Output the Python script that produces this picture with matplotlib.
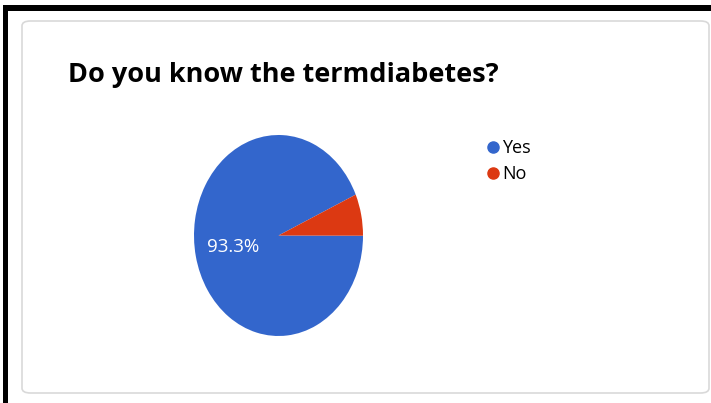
import matplotlib
matplotlib.use('Agg')
import matplotlib.pyplot as plt
from matplotlib.patches import FancyBboxPatch, Rectangle
from matplotlib.lines import Line2D

labels = ['Yes', 'No']
values = [93.3, 6.7]
colors = ['#3366cc', '#dc3912']
title = 'Do you know the termdiabetes?'

plt.rcParams['font.family'] = ['Open Sans', 'DejaVu Sans']

W, H = 711, 403
fig = plt.figure(figsize=(W / 100, H / 100), dpi=100)
fig.patch.set_facecolor('white')

# black frame (top and left) and grey rounded card, kept behind the pie
fig.patches.append(Rectangle((3 / W, 1 - 11 / H), 1, 6 / H, transform=fig.transFigure,
                             facecolor='black', edgecolor='none', zorder=-2))
fig.patches.append(Rectangle((3 / W, 0), 5 / W, 1 - 5 / H, transform=fig.transFigure,
                             facecolor='black', edgecolor='none', zorder=-2))
fig.patches.append(FancyBboxPatch((22 / W, 10 / H), 687 / W, 372 / H,
                                  boxstyle='round,pad=0,rounding_size=0.012',
                                  transform=fig.transFigure, facecolor='white',
                                  edgecolor='#d9d9d9', linewidth=1.2, zorder=-1))

fig.text(68 / W, 1 - 75 / H, title, fontsize=19.5, fontweight='bold',
         color='black', va='center', ha='left')

ax = fig.add_axes([194 / W, 1 - 336 / H, 169 / W, 201 / H])
wedges, texts, autotexts = ax.pie(values, colors=colors, startangle=24,
                                  counterclock=True, autopct=lambda p: f'{p:.1f}%' if p > 10 else '',
                                  pctdistance=0.55, textprops={'color': 'white', 'fontsize': 13.5},
                                  wedgeprops={'linewidth': 0})
ax.set_xlim(-1, 1)
ax.set_ylim(-1, 1)
ax.set_aspect('auto')
ax.axis('off')

handles = [Line2D([], [], marker='o', linestyle='none', markersize=8,
                  markerfacecolor=c, markeredgecolor=c) for c in colors]
fig.legend(handles, labels, loc='upper left', bbox_to_anchor=(475 / W, 1 - 130 / H),
           frameon=False, fontsize=13, handletextpad=0.0, labelspacing=0.45,
           handlelength=1.0, borderpad=0)

fig.savefig('out.png', dpi=100)
